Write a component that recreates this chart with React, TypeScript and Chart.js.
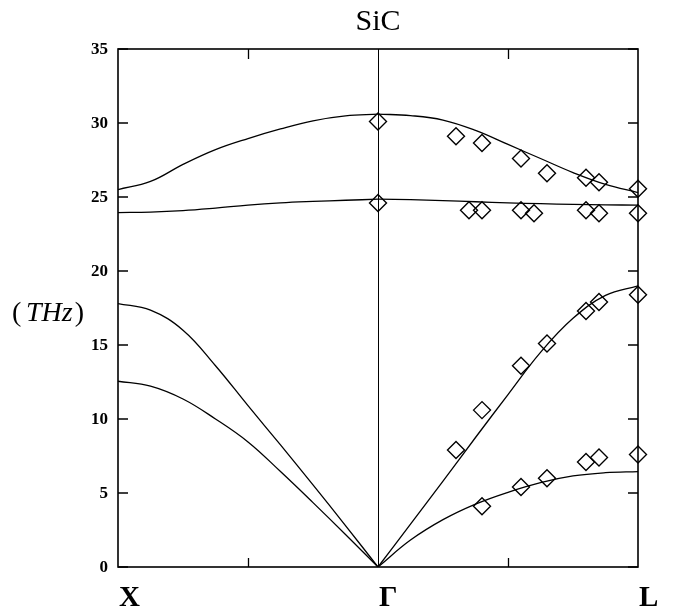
import React, { useEffect, useRef } from 'react';
import { Chart, registerables } from 'chart.js';

Chart.register(...registerables);

// ---- texts ----
const TITLE = 'SiC';
const UNIT_LABEL = 'THz';
const POINT_LABELS = ['X', 'Γ', 'L'];
const POINT_POS = [0, 1, 2];
const MINOR_X = [0.5, 1.5];
const Y_TICKS = [0, 5, 10, 15, 20, 25, 30, 35];

// ---- calculated dispersion (X -> Γ), k in units where Γ = 1 ----
const kLeft = [0, 0.125, 0.25, 0.375, 0.5, 0.625, 0.75, 0.875, 1];
const lo1Left = [25.5, 26.05, 27.2, 28.2, 28.95, 29.6, 30.15, 30.48, 30.6];
const to1Left = [23.95, 23.98, 24.08, 24.25, 24.45, 24.6, 24.7, 24.78, 24.85];
const laLeft = [17.8, 17.35, 16.0, 13.6, 10.9, 8.25, 5.55, 2.8, 0];
const taLeft = [12.55, 12.22, 11.35, 10.0, 8.45, 6.45, 4.35, 2.2, 0];

// ---- calculated dispersion (Γ -> L) ----
const kRight = [1, 1.125, 1.25, 1.375, 1.5, 1.625, 1.75, 1.875, 2];
const lo1Right = [30.6, 30.5, 30.2, 29.5, 28.55, 27.6, 26.65, 25.85, 25.3];
const to1Right = [24.85, 24.82, 24.76, 24.68, 24.6, 24.55, 24.5, 24.47, 24.45];
const laRight = [0, 2.9, 5.8, 8.75, 11.65, 14.5, 16.8, 18.35, 19.0];
const taRight = [0, 1.82, 3.2, 4.25, 5.05, 5.7, 6.15, 6.37, 6.45];

// ---- experimental points (Γ -> L) ----
const expLoK = [1.0, 1.3, 1.4, 1.55, 1.65, 1.8, 1.85, 2.0];
const expLoF = [30.1, 29.1, 28.65, 27.6, 26.6, 26.3, 26.0, 25.55];
const expToK = [1.0, 1.35, 1.4, 1.55, 1.6, 1.8, 1.85, 2.0];
const expToF = [24.6, 24.1, 24.1, 24.1, 23.9, 24.1, 23.9, 23.9];
const expLaK = [1.3, 1.4, 1.55, 1.65, 1.8, 1.85, 2.0];
const expLaF = [7.9, 10.6, 13.6, 15.1, 17.3, 17.9, 18.4];
const expTaK = [1.4, 1.55, 1.65, 1.8, 1.85, 2.0];
const expTaF = [4.1, 5.4, 6.0, 7.1, 7.4, 7.6];

const pts = (xs: number[], ys: number[]) => xs.map((x, i) => ({ x, y: ys[i] }));

const SERIF = '"Liberation Serif", "DejaVu Serif", serif';

const decorPlugin = {
  id: 'decor',
  afterDatasetsDraw(chart: any) {
    const { ctx, chartArea: a, scales } = chart;
    const xs = scales.x;
    const ys = scales.y;
    ctx.save();
    ctx.strokeStyle = '#000';
    ctx.fillStyle = '#000';

    // Γ vertical line
    ctx.lineWidth = 1;
    const gx = Math.round(xs.getPixelForValue(1)) + 0.5;
    ctx.beginPath();
    ctx.moveTo(gx, a.top);
    ctx.lineTo(gx, a.bottom);
    ctx.stroke();

    // frame
    ctx.lineWidth = 1.6;
    ctx.strokeRect(a.left, a.top, a.right - a.left, a.bottom - a.top);

    // y ticks (left and right, inward)
    ctx.lineWidth = 1.3;
    Y_TICKS.forEach((v) => {
      const py = ys.getPixelForValue(v);
      ctx.beginPath();
      ctx.moveTo(a.left, py);
      ctx.lineTo(a.left + 10, py);
      ctx.moveTo(a.right, py);
      ctx.lineTo(a.right - 10, py);
      ctx.stroke();
    });
    // x minor ticks (bottom and top, inward)
    MINOR_X.forEach((v) => {
      const px = Math.round(xs.getPixelForValue(v)) + 0.5;
      ctx.beginPath();
      ctx.moveTo(px, a.bottom);
      ctx.lineTo(px, a.bottom - 9);
      ctx.moveTo(px, a.top);
      ctx.lineTo(px, a.top + 10);
      ctx.stroke();
    });

    // y tick labels
    ctx.font = `bold 17px ${SERIF}`;
    ctx.textAlign = 'right';
    ctx.textBaseline = 'middle';
    Y_TICKS.forEach((v) => {
      ctx.fillText(String(v), a.left - 10, ys.getPixelForValue(v) + 1);
    });

    // x point labels
    ctx.font = `bold 29px ${SERIF}`;
    ctx.textAlign = 'left';
    ctx.textBaseline = 'alphabetic';
    POINT_LABELS.forEach((lab, i) => {
      ctx.fillText(lab, xs.getPixelForValue(POINT_POS[i]) + 1, 606);
    });

    // title
    ctx.font = `30px ${SERIF}`;
    ctx.textAlign = 'center';
    ctx.fillText(TITLE, (a.left + a.right) / 2, 30);

    // unit label: ( THz )
    ctx.textAlign = 'left';
    const base = 321;
    ctx.font = `28px ${SERIF}`;
    ctx.fillText('(', 12, base);
    ctx.font = `italic 28px ${SERIF}`;
    const w = ctx.measureText(UNIT_LABEL).width;
    ctx.fillText(UNIT_LABEL, 26, base);
    ctx.font = `28px ${SERIF}`;
    ctx.fillText(')', 26 + w + 2, base);

    ctx.restore();
  },
};

export default function App() {
  const ref = useRef<HTMLCanvasElement | null>(null);

  useEffect(() => {
    if (!ref.current) return;
    const curve = (xs: number[], ys: number[]) => ({
      type: 'line' as const,
      data: pts(xs, ys),
      showLine: true,
      borderColor: '#000',
      borderWidth: 1.3,
      pointRadius: 0,
      fill: false,
      tension: 0.4,
    });
    const marks = (xs: number[], ys: number[]) => ({
      type: 'scatter' as const,
      data: pts(xs, ys),
      showLine: false,
      pointStyle: 'rectRot' as const,
      pointRadius: 8.5,
      pointBorderWidth: 1.4,
      borderColor: '#000',
      backgroundColor: 'rgba(0,0,0,0)',
      pointBackgroundColor: 'rgba(0,0,0,0)',
      clip: false as any,
    });

    const chart = new Chart(ref.current, {
      type: 'scatter',
      data: {
        datasets: [
          curve(kLeft, lo1Left),
          curve(kLeft, to1Left),
          curve(kLeft, laLeft),
          curve(kLeft, taLeft),
          curve(kRight, lo1Right),
          curve(kRight, to1Right),
          curve(kRight, laRight),
          curve(kRight, taRight),
          marks(expLoK, expLoF),
          marks(expToK, expToF),
          marks(expLaK, expLaF),
          marks(expTaK, expTaF),
        ] as any,
      },
      options: {
        responsive: false,
        animation: false,
        devicePixelRatio: 1,
        layout: { padding: { left: 118, top: 49, right: 36, bottom: 47 } },
        plugins: {
          legend: { display: false },
          title: { display: false },
          tooltip: { enabled: false },
        },
        scales: {
          x: { type: 'linear', min: 0, max: 2, display: false },
          y: { type: 'linear', min: 0, max: 35, display: false },
        },
      },
      plugins: [decorPlugin],
    });
    return () => chart.destroy();
  }, []);

  return (
    <div style={{ position: 'absolute', left: 0, top: 0, width: 674, height: 614, background: '#fff' }}>
      <canvas ref={ref} width={674} height={614} />
    </div>
  );
}
